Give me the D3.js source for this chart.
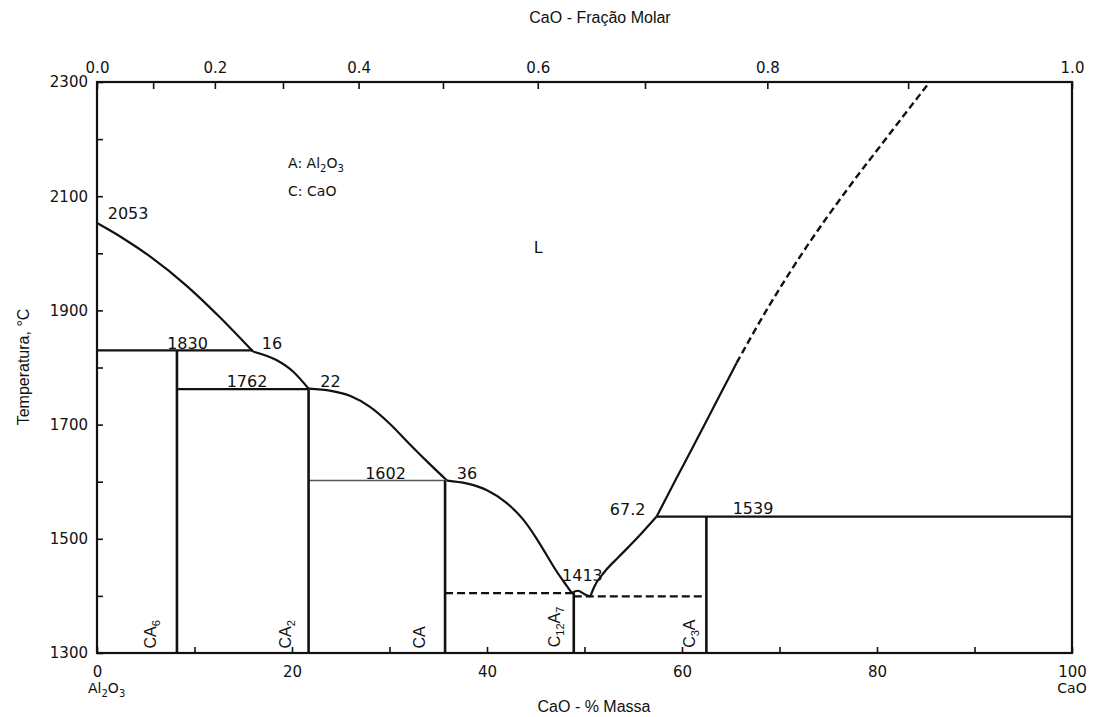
<!DOCTYPE html>
<html>
<head>
<meta charset="utf-8">
<script src="https://cdn.jsdelivr.net/npm/d3@7"></script>
<style>
  html, body { margin: 0; padding: 0; background: #fff; }
  svg { display: block; }
  text { fill: #111; }
</style>
</head>
<body>
<svg id="chart" width="1105" height="717"></svg>
<script>
// ---------------- DATA ----------------
// Liquidus segments (CaO mass %, temperature °C)
const liquidusAl2O3 = [[0,2053],[2.7,2026],[5.4,1995],[9.2,1943],[12.6,1888],[16.0,1828]];
const liquidusCA6   = [[16.0,1828],[18.4,1813],[20.1,1793],[21.7,1763]];
const liquidusCA2   = [[21.7,1763],[24.0,1759],[26.0,1750],[28.0,1731],[30.0,1702],[32.0,1667],[34.0,1633],[35.9,1602]];
const liquidusCA    = [[35.9,1602],[37.9,1597],[40.0,1585],[42.0,1563],[43.7,1534],[45.1,1500],[46.1,1472],[47.1,1444],[48.2,1417],[48.7,1405]];
const liquidusC12A7 = [[48.7,1405],[49.3,1409],[50.1,1402],[50.6,1399]];
const liquidusC3A   = [[50.6,1399],[51.0,1416],[52.0,1441],[53.5,1468],[55.5,1503],[57.4,1539]];
const liquidusCaO   = [[57.4,1539],[59.4,1605],[61.4,1670],[63.5,1739],[65.6,1808]];
const liquidusCaODashed = [[65.6,1808],[68.9,1907],[72.8,2012],[77.0,2113],[81.2,2207],[85.4,2300]];

// Invariant (horizontal) lines: [temperature, from %, to %]
const solidIsotherms  = [[1830,0,16.0],[1762,8.2,21.7],[1539,57.4,100]];
const thinIsotherms   = [[1602,21.7,35.9]];
const dashedIsotherms = [[1405,35.7,48.9],[1399,48.9,62.5]];

// Compounds: [name, CaO mass %, top temperature]
const compounds = [["CA6",8.2,1830],["CA2",21.7,1762],["CA",35.7,1602],["C12A7",48.9,1405],["C3A",62.5,1539]];
// Rotated compound labels: [base, subscript1, middle, subscript2, CaO %, temperature]
const compoundLabels = [["CA","6","","",6.1,1308],["CA","2","","",19.9,1308],["CA","","","",33.6,1308],["C","12","A","7",47.5,1310],["C","3","A","",61.3,1309]];

// Point annotations: [text, CaO %, temperature]
const pointLabels = [["2053",1.1,2060],["1830",7.2,1832],["16",16.9,1832],["1762",13.3,1766],["22",22.9,1766],
  ["1602",27.5,1605],["36",36.9,1605],["1413",47.7,1426],["67.2",52.6,1542],["1539",65.2,1543],["L",44.8,2001]];

// Axis ticks
const tempTicks = d3.range(1300, 2301, 100);
const tempLabels = [1300, 1500, 1700, 1900, 2100, 2300];
const massTicks = d3.range(0, 101, 10);
const massLabels = [0, 20, 40, 60, 80, 100];
const moleTicks = d3.range(0, 11).map(i => i / 10);
const moleLabels = [0, 0.2, 0.4, 0.6, 0.8, 1.0];
const molarMass = { CaO: 56.08, Al2O3: 101.96 };

// ---------------- CHART ----------------
const svg = d3.select("#chart");
const L = 97, R = 1072, T = 82, B = 653;
const x = d3.scaleLinear().domain([0, 100]).range([L, R]);
const y = d3.scaleLinear().domain([1300, 2300]).range([B, T]);
const molToMass = m => 100 * m * molarMass.CaO / (m * molarMass.CaO + (1 - m) * molarMass.Al2O3);
const xMol = d3.scaleLinear().domain(moleTicks).range(moleTicks.map(m => x(molToMass(m))));

const numFont = "DejaVu Sans, Verdana, sans-serif";
const titleFont = "Liberation Sans, Arial, sans-serif";

// Axes
const gy = svg.append("g").attr("transform", `translate(${L},0)`)
  .call(d3.axisLeft(y).tickValues(tempTicks).tickSize(-6).tickPadding(9)
    .tickFormat(d => tempLabels.includes(d) ? d : ""));
const gx = svg.append("g").attr("transform", `translate(0,${B})`)
  .call(d3.axisBottom(x).tickValues(massTicks).tickSize(-6).tickPadding(13)
    .tickFormat(d => massLabels.includes(d) ? d : ""));
const gt = svg.append("g").attr("transform", `translate(0,${T})`)
  .call(d3.axisTop(xMol).tickValues(moleTicks).tickSize(-7).tickPadding(9)
    .tickFormat(d => moleLabels.some(v => Math.abs(v - d) < 1e-9) ? d3.format(".1f")(d) : ""));
[gy, gx, gt].forEach(g => {
  g.select(".domain").remove();
  g.selectAll(".tick line").attr("stroke", "#111").attr("stroke-width", 1.6);
  g.selectAll(".tick text").attr("font-family", numFont).attr("font-size", 15).attr("fill", "#222");
});

// Frame
svg.append("rect").attr("x", L).attr("y", T).attr("width", R - L).attr("height", B - T)
  .attr("fill", "none").attr("stroke", "#111").attr("stroke-width", 2.2);

// Axis titles
svg.append("text").attr("x", 600).attr("y", 23).attr("text-anchor", "middle")
  .attr("font-family", titleFont).attr("font-size", 16).text("CaO - Fração Molar");
svg.append("text").attr("x", 594).attr("y", 712).attr("text-anchor", "middle")
  .attr("font-family", titleFont).attr("font-size", 16).text("CaO - % Massa");
svg.append("text").attr("transform", "translate(29,367) rotate(-90)").attr("text-anchor", "middle")
  .attr("font-family", titleFont).attr("font-size", 16).text("Temperatura, °C");

// Component labels under axis ends
const al = svg.append("text").attr("x", x(0) - 9).attr("y", 693)
  .attr("font-family", numFont).attr("font-size", 14);
al.append("tspan").text("Al");
al.append("tspan").attr("dy", 4).attr("font-size", 10).text("2");
al.append("tspan").attr("dy", -4).text("O");
al.append("tspan").attr("dy", 4).attr("font-size", 10).text("3");
svg.append("text").attr("x", x(100)).attr("y", 693).attr("text-anchor", "middle")
  .attr("font-family", numFont).attr("font-size", 14).text("CaO");

// Lines
const line = d3.line().x(d => x(d[0])).y(d => y(d[1])).curve(d3.curveMonotoneX);
const solidSegs = [liquidusAl2O3, liquidusCA6, liquidusCA2, liquidusCA, liquidusC12A7, liquidusC3A, liquidusCaO];
svg.append("g").selectAll("path").data(solidSegs).join("path")
  .attr("d", line).attr("fill", "none").attr("stroke", "#111").attr("stroke-width", 2.2)
  .attr("stroke-linejoin", "round");
svg.append("path").datum(liquidusCaODashed).attr("d", line).attr("fill", "none")
  .attr("stroke", "#111").attr("stroke-width", 2.4).attr("stroke-dasharray", "7,4");

svg.append("g").selectAll("line").data(solidIsotherms).join("line")
  .attr("x1", d => x(d[1])).attr("x2", d => x(d[2])).attr("y1", d => y(d[0])).attr("y2", d => y(d[0]))
  .attr("stroke", "#111").attr("stroke-width", 2.2);
svg.append("g").selectAll("line").data(thinIsotherms).join("line")
  .attr("x1", d => x(d[1])).attr("x2", d => x(d[2])).attr("y1", d => y(d[0])).attr("y2", d => y(d[0]))
  .attr("stroke", "#555").attr("stroke-width", 1.5);
svg.append("g").selectAll("line").data(dashedIsotherms).join("line")
  .attr("x1", d => x(d[1])).attr("x2", d => x(d[2])).attr("y1", d => y(d[0])).attr("y2", d => y(d[0]))
  .attr("stroke", "#111").attr("stroke-width", 2.2).attr("stroke-dasharray", "8,4");

svg.append("g").selectAll("line").data(compounds).join("line")
  .attr("x1", d => x(d[1])).attr("x2", d => x(d[1])).attr("y1", d => y(d[2])).attr("y2", y(1300))
  .attr("stroke", "#111").attr("stroke-width", 2.6);

// Point labels
svg.append("g").selectAll("text").data(pointLabels).join("text")
  .attr("x", d => x(d[1])).attr("y", d => y(d[2]))
  .attr("font-family", numFont).attr("font-size", 16).text(d => d[0]);

// Legend
const leg1 = svg.append("text").attr("x", x(19.6)).attr("y", y(2149))
  .attr("font-family", numFont).attr("font-size", 14);
leg1.append("tspan").text("A:  Al");
leg1.append("tspan").attr("dy", 4).attr("font-size", 10).text("2");
leg1.append("tspan").attr("dy", -4).text("O");
leg1.append("tspan").attr("dy", 4).attr("font-size", 10).text("3");
svg.append("text").attr("x", x(19.6)).attr("y", y(2100))
  .attr("font-family", numFont).attr("font-size", 14).text("C:  CaO");

// Compound labels (rotated)
compoundLabels.forEach(c => {
  const t = svg.append("text")
    .attr("transform", `translate(${x(c[4])},${y(c[5])}) rotate(-90)`)
    .attr("font-family", titleFont).attr("font-size", 16);
  t.append("tspan").text(c[0]);
  if (c[1]) t.append("tspan").attr("dy", 4).attr("font-size", 11).text(c[1]);
  if (c[2]) t.append("tspan").attr("dy", c[1] ? -4 : 0).text(c[2]);
  if (c[3]) t.append("tspan").attr("dy", 4).attr("font-size", 11).text(c[3]);
});
</script>
</body>
</html>
